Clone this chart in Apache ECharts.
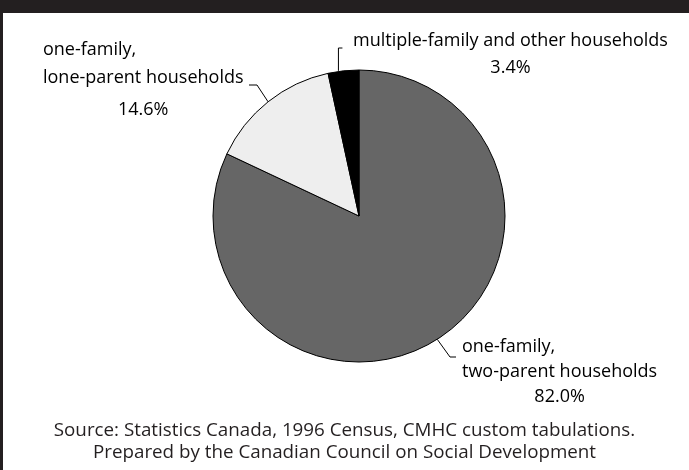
<!DOCTYPE html>
<html>
<head>
<meta charset="utf-8">
<script src="https://cdn.jsdelivr.net/npm/echarts@6/dist/echarts.min.js"></script>
<style>html,body{margin:0;padding:0;background:#fff;}#c{width:689px;height:470px;}</style>
</head>
<body>
<div id="c"></div>
<script>
// ---- data ----
var categories = ['one-family,\ntwo-parent households', 'one-family,\nlone-parent households', 'multiple-family and other households'];
var shares = [82.0, 14.6, 3.4];
var sliceColors = ['#666666', '#eeeeee', '#000000'];
var sourceText = 'Source: Statistics Canada, 1996 Census, CMHC custom tabulations.\nPrepared by the Canadian Council on Social Development';

// ---- layout constants ----
var CX = 359, CY = 216, R = 146;
var FONT = '"Open Sans"';

var chart = echarts.init(document.getElementById('c'), null, {renderer: 'canvas'});

var total = shares.reduce(function (a, b) { return a + b; }, 0);
function midPoint(i) {
  var before = 0;
  for (var k = 0; k < i; k++) before += shares[k];
  var mid = (before + shares[i] / 2) / total * 360;
  var ang = (90 - mid) * Math.PI / 180;
  return [CX + R * Math.cos(ang), CY - R * Math.sin(ang)];
}

function fmt(params) {
  var i = params.dataIndex;
  var pct = params.value.toFixed(1) + '%';
  var lines = params.name.split('\n');
  if (i === 0) return '{d|' + lines[0] + '}\n{e|' + lines[1] + '}\n{e|' + pct + '}';
  if (i === 1) return '{a|' + lines[0] + '}\n{b|' + lines[1] + '}\n{c|' + pct + '}';
  return '{g|' + lines[0] + '}\n{g|' + pct + '}';
}

var ts = {fontFamily: FONT, fontSize: 18, color: '#000'};
function st(align, lh) { return Object.assign({}, ts, {align: align, lineHeight: lh}); }

var labelBoxes = [
  {x: 462, y: 334, line: function (p) { return [p, [450, 357], [456, 357]]; }},
  {x: 43, y: 36, line: function (p) { return [p, [257, 85], [249, 85]]; }},
  {x: 353, y: 27, line: function (p) { return [[p[0] - 5, p[1]], [p[0] - 5, 48], [p[0] - 1, 48]]; }}
];

chart.setOption({
  animation: false,
  graphic: [
    {type: 'rect', shape: {x: 0, y: 0, width: 689, height: 13}, style: {fill: '#231f20'}},
    {type: 'rect', shape: {x: 0, y: 0, width: 3, height: 470}, style: {fill: '#231f20'}}
  ],
  title: {
    text: sourceText,
    left: 'center',
    top: 415,
    textStyle: {fontFamily: FONT, fontSize: 18.8, fontWeight: 'normal', color: '#231f20', lineHeight: 22}
  },
  series: [{
    type: 'pie',
    center: [CX, CY],
    radius: R,
    startAngle: 90,
    clockwise: true,
    data: categories.map(function (c, i) {
      return {name: c, value: shares[i], itemStyle: {color: sliceColors[i]}};
    }),
    itemStyle: {borderColor: '#000', borderWidth: 1},
    label: {
      show: true,
      overflow: 'none',
      bleedMargin: 0,
      formatter: fmt,
      rich: {
        a: st('left', 28), b: st('center', 28), c: st('center', 36),
        d: st('left', 25), e: st('center', 25),
        g: st('center', 27)
      }
    },
    labelLine: {show: true, length: 0, length2: 0, lineStyle: {color: '#000', width: 1}},
    labelLayout: function (params) {
      var i = params.dataIndex;
      var b = labelBoxes[i];
      return {
        x: b.x, y: b.y, align: 'left', verticalAlign: 'top',
        labelLinePoints: b.line(midPoint(i))
      };
    },
    emphasis: {disabled: true}
  }]
});
</script>
</body>
</html>
